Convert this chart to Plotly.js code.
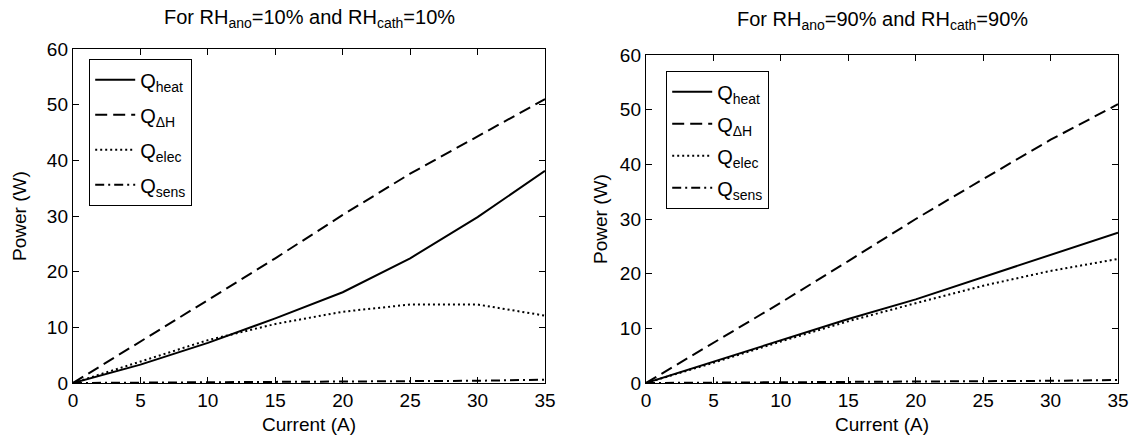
<!DOCTYPE html>
<html>
<head>
<meta charset="utf-8">
<script src="https://cdn.plot.ly/plotly-3.0.1.min.js"></script>
<style>html,body{margin:0;padding:0;background:#fff;}#chart{width:1133px;height:437px;}</style>
</head>
<body>
<div id="chart"></div>
<script>
// Current (A)
const current = [0, 5, 10, 15, 20, 25, 30, 35];

// RH_ano = 10%, RH_cath = 10%
const heat10  = [0, 3.3, 7.2, 11.6, 16.3, 22.4, 29.8, 38.1];
const dH10    = [0, 7.4, 14.9, 22.4, 30.2, 37.6, 44.3, 51.0];
const elec10  = [0, 3.9, 7.7, 10.6, 12.8, 14.1, 14.1, 12.1];
const sens10  = [0, 0.05, 0.1, 0.15, 0.2, 0.3, 0.4, 0.6];

// RH_ano = 90%, RH_cath = 90%
const heat90  = [0, 3.9, 7.9, 11.7, 15.3, 19.4, 23.5, 27.5];
const dH90    = [0, 7.3, 14.7, 22.3, 30.0, 37.3, 44.5, 51.0];
const elec90  = [0, 3.7, 7.6, 11.3, 14.6, 17.8, 20.5, 22.7];
const sens90  = [0, 0.05, 0.1, 0.15, 0.2, 0.3, 0.4, 0.55];

const names = ['Q<sub>heat</sub>', 'Q<sub>ΔH</sub>', 'Q<sub>elec</sub>', 'Q<sub>sens</sub>'];
const titles = ['For RH<sub>ano</sub>=10% and RH<sub>cath</sub>=10%',
                'For RH<sub>ano</sub>=90% and RH<sub>cath</sub>=90%'];
const xTicks = [0, 5, 10, 15, 20, 25, 30, 35];
const yTicks = [0, 10, 20, 30, 40, 50, 60];

const dashes = ['solid', '12px,6px', '2px,3px', '9px,4px,2px,4px'];
const sets = [[heat10, dH10, elec10, sens10], [heat90, dH90, elec90, sens90]];

const traces = [];
sets.forEach((s, si) => {
  s.forEach((vals, i) => {
    traces.push({
      x: current, y: vals, type: 'scatter', mode: 'lines',
      name: names[i],
      legendgroup: 'g' + si + '_' + i,
      xaxis: si === 0 ? 'x' : 'x2',
      yaxis: si === 0 ? 'y' : 'y2',
      legend: si === 0 ? 'legend' : 'legend2',
      line: {color: '#000', width: 2, dash: dashes[i]}
    });
  });
});

const FONT = '"Liberation Sans", Arial, Helvetica, sans-serif';
function xax(domain, anchor) {
  return {domain: domain, anchor: anchor, range: [0, 35], tickvals: xTicks, ticktext: xTicks.map(String),
    ticks: 'inside', ticklen: 6, tickcolor: '#000', showline: true, linecolor: '#000', linewidth: 1.2,
    mirror: 'ticks', showgrid: false, zeroline: false, tickfont: {size: 19, color: '#000'}, fixedrange: true};
}
function yax(domain, anchor) {
  return {domain: domain, anchor: anchor, range: [0, 60], tickvals: yTicks, ticktext: yTicks.map(String),
    ticks: 'inside', ticklen: 6, tickcolor: '#000', showline: true, linecolor: '#000', linewidth: 1.2,
    mirror: 'ticks', showgrid: false, zeroline: false, tickfont: {size: 19, color: '#000'}, fixedrange: true};
}
const legendBase = {xanchor: 'left', yanchor: 'top', bgcolor: '#fff', bordercolor: '#000', borderwidth: 1.2,
  font: {size: 20, color: '#000', family: FONT}, itemwidth: 40, traceorder: 'grouped'};

const layout = {
  width: 1133, height: 437,
  margin: {l: 0, r: 0, t: 0, b: 0},
  paper_bgcolor: '#fff', plot_bgcolor: '#fff',
  font: {family: FONT, color: '#000', size: 19},
  showlegend: true,
  xaxis: xax([73/1133, 545/1133], 'y'),
  yaxis: yax([1 - 383/437, 1 - 49/437], 'x'),
  xaxis2: xax([646/1133, 1118/1133], 'y2'),
  yaxis2: yax([1 - 383/437, 1 - 55/437], 'x2'),
  legend: Object.assign({x: 89/1133, y: 1 - 59/437, tracegroupgap: 6}, legendBase),
  legend2: Object.assign({x: 666/1133, y: 1 - 71/437, tracegroupgap: 3}, legendBase),
  annotations: [
    {text: titles[0], xref: 'paper', yref: 'paper', x: 309/1133, y: 1 - 19/437, showarrow: false, xanchor: 'center', yanchor: 'middle', font: {size: 20}},
    {text: titles[1], xref: 'paper', yref: 'paper', x: 882/1133, y: 1 - 21/437, showarrow: false, xanchor: 'center', yanchor: 'middle', font: {size: 20}},
    {text: 'Current (A)', xref: 'paper', yref: 'paper', x: 309/1133, y: 1 - 424/437, showarrow: false, xanchor: 'center', yanchor: 'middle', font: {size: 19}},
    {text: 'Current (A)', xref: 'paper', yref: 'paper', x: 882/1133, y: 1 - 424/437, showarrow: false, xanchor: 'center', yanchor: 'middle', font: {size: 19}},
    {text: 'Power (W)', xref: 'paper', yref: 'paper', x: 20/1133, y: 1 - 216/437, showarrow: false, textangle: -90, xanchor: 'center', yanchor: 'middle', font: {size: 19}},
    {text: 'Power (W)', xref: 'paper', yref: 'paper', x: 600/1133, y: 1 - 219/437, showarrow: false, textangle: -90, xanchor: 'center', yanchor: 'middle', font: {size: 19}}
  ]
};

Plotly.newPlot('chart', traces, layout, {staticPlot: true, displayModeBar: false});
</script>
</body>
</html>
